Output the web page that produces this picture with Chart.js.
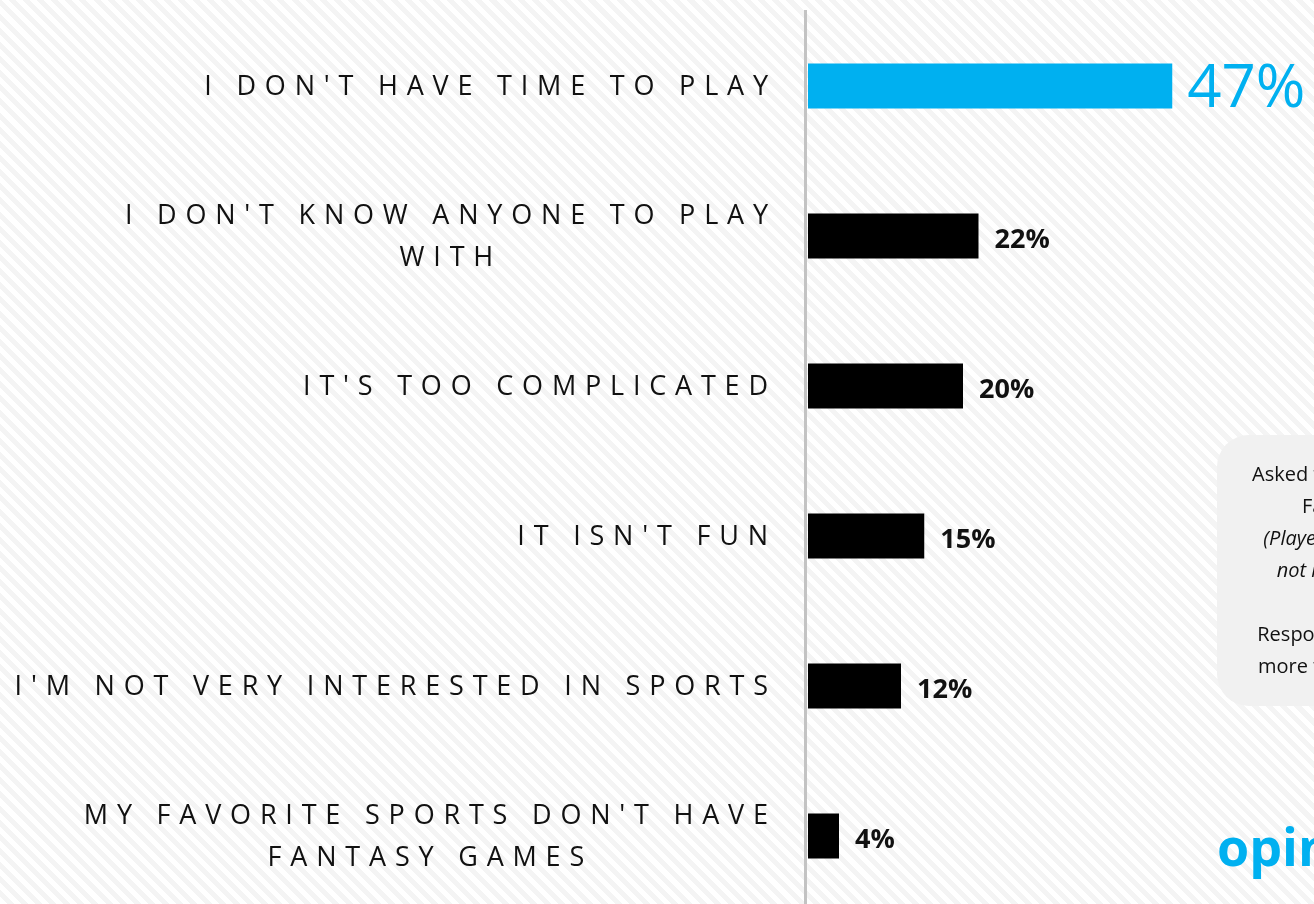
<!DOCTYPE html>
<html>
<head>
<meta charset="utf-8">
<script src="https://cdn.jsdelivr.net/npm/chart.js@4.4.1/dist/chart.umd.min.js"></script>
<style>
    html, body {
        margin: 0;
        padding: 0;
        overflow: hidden;
        width: 1314px;
        height: 904px;
        background: repeating-linear-gradient(45deg, #ffffff 0 5px, #f4f4f4 5px 10px);
    }
    #wrap { position: relative; width: 1314px; height: 911px; }
</style>
</head>
<body>
<div id="wrap"><canvas id="chart" width="1314" height="911"></canvas></div>
<script>
// --- дані ---
const categories = [
    ["I DON'T HAVE TIME TO PLAY"],
    ["I DON'T KNOW ANYONE TO PLAY", "WITH"],
    ["IT'S TOO COMPLICATED"],
    ["IT ISN'T FUN"],
    ["I'M NOT VERY INTERESTED IN SPORTS"],
    ["MY FAVORITE SPORTS DON'T HAVE", "FANTASY GAMES"]
];
const values = [47, 22, 20, 15, 12, 4];
const barColors = ['#00b0f0', '#000000', '#000000', '#000000', '#000000', '#000000'];
const valueLabels = ['47%', '22%', '20%', '15%', '12%', '4%'];

const noteLines = [
    { text: 'Asked to non-players of', italic: false },
    { text: 'Fantasy Fans', italic: false },
    { text: '(Played in the past but', italic: true },
    { text: 'not in the last year)', italic: true },
    { text: '', italic: false },
    { text: 'Respondents may pick', italic: false },
    { text: 'more than one reason', italic: false }
];
const logoText = 'opinion';

const BLUE = '#00b0f0';
const FONT = '"Open Sans", "Noto Sans", sans-serif';

// ширина тексту з розрядкою
function spacedWidth(ctx, s, sp) {
    return ctx.measureText(s).width + sp * (s.length - 1);
}

function drawSpaced(ctx, s, x, y, sp) {
    let cx = x;
    for (const ch of s) {
        ctx.fillText(ch, cx, y);
        cx += ctx.measureText(ch).width + sp;
    }
}

const decorPlugin = {
    id: 'decor',
    afterDraw(chart) {
        const ctx = chart.ctx;
        const area = chart.chartArea;
        const yScale = chart.scales.y;
        const meta = chart.getDatasetMeta(0);

        // вертикальна вісь
        ctx.save();
        ctx.fillStyle = '#c3c3c3';
        ctx.fillRect(area.left - 4, area.top - 1, 3, chart.height);

        // підписи категорій
        ctx.fillStyle = '#111';
        ctx.font = '400 27px ' + FONT;
        ctx.textAlign = 'left';
        ctx.textBaseline = 'middle';
        const sp = 8.8;
        const rightEdge = 768;
        categories.forEach((lines, i) => {
            const yc = yScale.getPixelForValue(i);
            const widths = lines.map(l => spacedWidth(ctx, l, sp));
            const maxW = Math.max(...widths);
            const center = rightEdge - maxW / 2;
            const lh = 42;
            lines.forEach((l, j) => {
                const y = yc + (j - (lines.length - 1) / 2) * lh + 1;
                drawSpaced(ctx, l, center - widths[j] / 2, y, sp);
            });
        });

        // значення біля стовпців
        meta.data.forEach((bar, i) => {
            if (i === 0) {
                ctx.fillStyle = BLUE;
                ctx.font = '400 60px ' + FONT;
                ctx.fillText(valueLabels[i], bar.x + 15, bar.y + 4);
            } else {
                ctx.fillStyle = '#111';
                ctx.font = '700 27px ' + FONT;
                ctx.fillText(valueLabels[i], bar.x + 16, bar.y + 4);
            }
        });

        // блок з приміткою
        ctx.fillStyle = '#f1f1f1';
        ctx.beginPath();
        ctx.roundRect(1217, 435, 240, 271, 32);
        ctx.fill();

        ctx.fillStyle = '#111';
        ctx.textAlign = 'center';
        let ny = 475;
        noteLines.forEach((ln) => {
            ctx.font = (ln.italic ? 'italic ' : '') + '400 20px ' + FONT;
            ctx.fillText(ln.text, 1362, ny);
            ny += 32;
        });

        // логотип
        ctx.fillStyle = BLUE;
        ctx.font = '700 52px ' + FONT;
        ctx.textAlign = 'left';
        ctx.textBaseline = 'alphabetic';
        ctx.fillText(logoText, 1217, 866);
        ctx.restore();
    }
};

new Chart(document.getElementById('chart').getContext('2d'), {
    type: 'bar',
    data: {
        labels: categories,
        datasets: [{
            data: values,
            backgroundColor: barColors,
            borderWidth: 0,
            categoryPercentage: 1,
            barPercentage: 0.3
        }]
    },
    options: {
        indexAxis: 'y',
        responsive: false,
        animation: false,
        devicePixelRatio: 1,
        layout: { padding: { left: 808, right: 118.5, top: 11, bottom: 0 } },
        plugins: { legend: { display: false }, tooltip: { enabled: false } },
        scales: {
            x: { display: false, min: 0, max: 50 },
            y: { display: false }
        }
    },
    plugins: [decorPlugin]
});
</script>
</body>
</html>
